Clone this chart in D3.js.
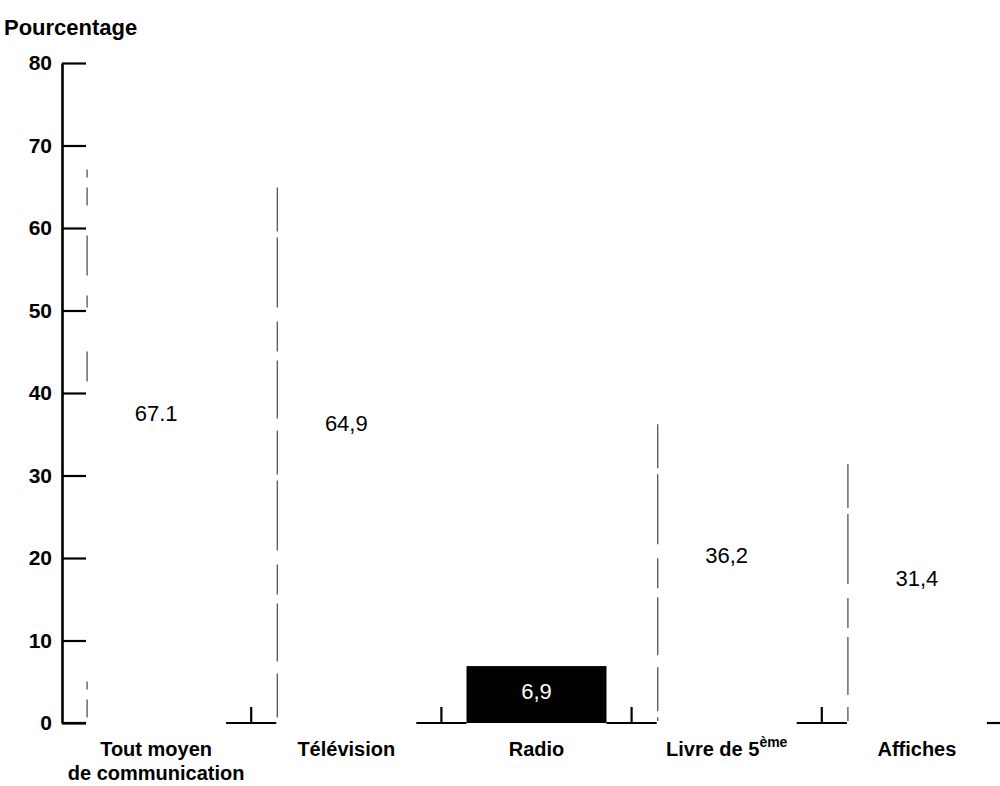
<!DOCTYPE html>
<html><head><meta charset="utf-8">
<script src="https://cdn.jsdelivr.net/npm/d3@7"></script>
<style>body{margin:0;background:#fff} svg{display:block}</style>
</head><body><svg id="c" width="1000" height="786"></svg>
<script>
// ---- data ----
const categories = ["Tout moyen|de communication", "Télévision", "Radio", "Livre de 5^ème", "Affiches"];
const values = [67.1, 64.9, 6.9, 36.2, 31.4];
const valueLabels = ["67.1", "64,9", "6,9", "36,2", "31,4"];
const highlighted = [false, false, true, false, false];
const yTicks = [0, 10, 20, 30, 40, 50, 60, 70, 80];
const yTitle = "Pourcentage";

// ---- layout ----
const W = 1000, H = 786;
const svg = d3.select("#c");
const FONT = "'Liberation Sans', Arial, Helvetica, sans-serif";
const axisX = 62;

const x = d3.scaleBand().domain(categories).range([61, 1012]).paddingInner(0.264).paddingOuter(0.132);
const y = d3.scaleLinear().domain([0, 80]).range([723, 63]);
const bw = x.bandwidth();
const gap = x.step() - bw;

// y axis title
svg.append("text").attr("x", 4).attr("y", 35).text(yTitle)
  .attr("font-family", FONT).attr("font-weight", "bold").attr("font-size", 22).attr("fill", "#000");

// y axis
const yAxis = d3.axisLeft(y).tickValues(yTicks).tickSizeInner(-24).tickSizeOuter(0).tickPadding(10).tickFormat(d3.format("d"));
const gy = svg.append("g").attr("transform", `translate(${axisX},0)`).call(yAxis);
gy.select(".domain").attr("stroke", "#000").attr("stroke-width", 2.6);
gy.selectAll(".tick line").attr("stroke", "#000").attr("stroke-width", 2.2);
gy.selectAll(".tick text").attr("font-family", FONT).attr("font-weight", "bold").attr("font-size", 21).attr("fill", "#000");

// bars
categories.forEach((c, i) => {
  const x0 = x(c);
  if (highlighted[i]) {
    svg.append("rect").attr("x", x0).attr("y", y(values[i])).attr("width", bw).attr("height", y(0) - y(values[i])).attr("fill", "#000");
  } else {
    // light bar (faded in scan): only the dashed left edge remains visible
    svg.append("line").attr("x1", x0 + 1).attr("x2", x0 + 1).attr("y1", y(values[i])).attr("y2", y(0) - 2)
      .attr("stroke", "#555").attr("stroke-width", 1.3).attr("stroke-dasharray", i === 0 ? "8,10,18,30,40,20,12,44,30,300" : "44,6,70,14,30,9,58,12");
  }
});

// baseline segments between bars with ticks at slot boundaries
const segs = [[axisX, x(categories[0])]];
categories.forEach((c, i) => {
  const s = x(c) + bw;
  const e = i < categories.length - 1 ? x(categories[i + 1]) : W;
  segs.push([s, e]);
  svg.append("line").attr("x1", s + gap / 2).attr("x2", s + gap / 2).attr("y1", y(0)).attr("y2", y(0) - 16)
    .attr("stroke", "#000").attr("stroke-width", 2.2);
});
segs.forEach(([s, e]) => {
  svg.append("line").attr("x1", s).attr("x2", e).attr("y1", y(0)).attr("y2", y(0))
    .attr("stroke", "#000").attr("stroke-width", 2.2);
});

// value labels
categories.forEach((c, i) => {
  svg.append("text").attr("x", x(c) + bw / 2).attr("y", y(values[i] * 0.56)).attr("dy", "0.35em")
    .attr("text-anchor", "middle").text(valueLabels[i])
    .attr("font-family", FONT).attr("font-size", 22).attr("fill", highlighted[i] ? "#fff" : "#000");
});

// category labels
categories.forEach((c, i) => {
  const cx = x(c) + bw / 2;
  const lines = c.split("|");
  lines.forEach((ln, j) => {
    const t = svg.append("text").attr("x", cx).attr("y", 756 + j * 24).attr("text-anchor", "middle")
      .attr("font-family", FONT).attr("font-weight", "bold").attr("font-size", 20).attr("fill", "#000");
    const parts = ln.split("^");
    t.append("tspan").text(parts[0]);
    if (parts[1]) t.append("tspan").attr("dy", -9).attr("font-size", 14).text(parts[1]);
  });
});
</script></body></html>
